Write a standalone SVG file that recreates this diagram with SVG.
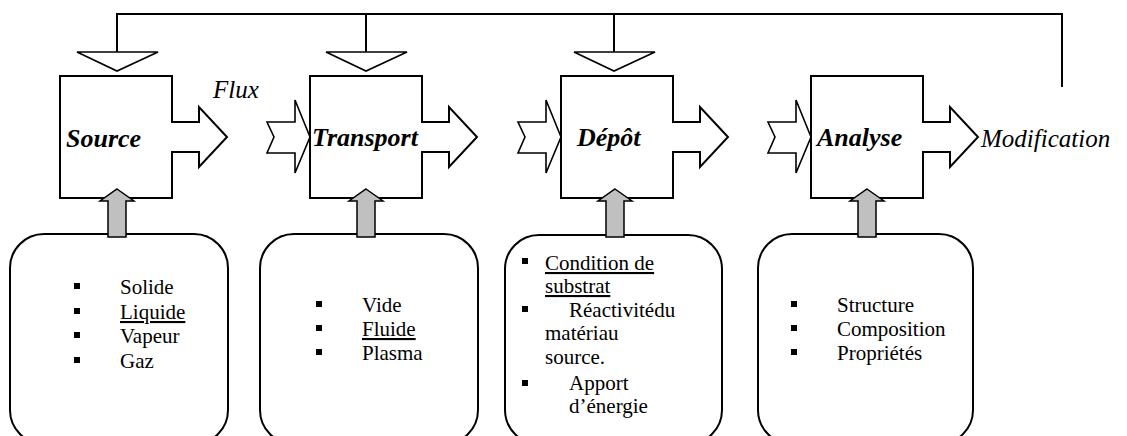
<svg xmlns="http://www.w3.org/2000/svg" width="1127" height="436" viewBox="0 0 1127 436">
  <style>
    .box { fill: #fff; stroke: #000; stroke-width: 2; stroke-linejoin: miter; }
    .inarrow { fill: #fff; stroke: #000; stroke-width: 1.6; stroke-linejoin: miter; }
    .tri { fill: #fff; stroke: #000; stroke-width: 1.6; }
    .wire { fill: none; stroke: #000; stroke-width: 2; }
    .panel { fill: #fff; stroke: #000; stroke-width: 2; }
    .lift { fill: #c0c0c0; stroke: #000; stroke-width: 1.5; }
    .dot { fill: #000; }
  </style>
  <defs>
    <!-- process block with its outgoing flux arrow, origin at top-left -->
    <path id="block" d="M0,0 H112 V46 H139 V31 L167,61 L139,91 V76 H112 V122 H0 Z"/>
    <!-- notched incoming flux arrow, tip at (0,0) -->
    <path id="notch" d="M-43,-15 H-15 V-37 L0,0 L-15,36 V16 H-43 L-36,0 Z"/>
    <!-- feedback triangle, tip at (0,0) -->
    <path id="drop" d="M-40,-19 H41 L0,0 Z"/>
    <!-- grey supply arrow, tip at (0,0) -->
    <path id="lift" d="M0,0 L17,12 H9 V48 H-9 V12 H-17 Z"/>
    <rect id="sq" x="-3" y="-3" width="6" height="6"/>
  </defs>

  <!-- feedback loop along the top -->
  <g id="connectors">
    <path class="wire" d="M117,52 V14 H1062 V87 M366,14 V52 M614,14 V52"/>
    <use href="#drop" class="tri" x="117" y="71"/>
    <use href="#drop" class="tri" x="366" y="71"/>
    <use href="#drop" class="tri" x="614" y="71"/>
    <use href="#notch" class="inarrow" x="310" y="137"/>
    <use href="#notch" class="inarrow" x="561" y="137"/>
    <use href="#notch" class="inarrow" x="811" y="137"/>
    <g font-family="Liberation Serif, Times New Roman, serif" font-style="italic" font-size="25">
      <text x="213" y="98">Flux</text>
      <text x="981" y="147">Modification</text>
    </g>
  </g>

  <g font-family="Liberation Serif, Times New Roman, serif" font-weight="bold" font-style="italic" font-size="26">
    <g id="source">
      <use href="#block" class="box" x="60" y="76"/>
      <text x="66" y="147">Source</text>
    </g>
    <g id="transport">
      <use href="#block" class="box" x="310" y="76"/>
      <text x="312" y="146">Transport</text>
    </g>
    <g id="depot">
      <use href="#block" class="box" x="561" y="76"/>
      <text x="577" y="146">Dépôt</text>
    </g>
    <g id="analyse">
      <use href="#block" class="box" x="811" y="76"/>
      <text x="817" y="146">Analyse</text>
    </g>
  </g>

  <!-- input panels -->
  <g font-family="Liberation Serif, Times New Roman, serif" font-size="21">
    <g id="source-inputs">
      <rect class="panel" x="10" y="234" width="218" height="210" rx="34"/>
      <use href="#lift" class="lift" x="117" y="189"/>
      <use href="#sq" class="dot" x="77" y="286"/>
      <use href="#sq" class="dot" x="77" y="311"/>
      <use href="#sq" class="dot" x="77" y="335"/>
      <use href="#sq" class="dot" x="77" y="360"/>
      <text x="120" y="294">Solide</text>
      <text x="120" y="319" text-decoration="underline">Liquide</text>
      <text x="120" y="343">Vapeur</text>
      <text x="120" y="368">Gaz</text>
    </g>

    <g id="transport-inputs">
      <rect class="panel" x="260" y="234" width="218" height="210" rx="34"/>
      <use href="#lift" class="lift" x="366" y="189"/>
      <use href="#sq" class="dot" x="319" y="304"/>
      <use href="#sq" class="dot" x="319" y="328"/>
      <use href="#sq" class="dot" x="319" y="352"/>
      <text x="362" y="312">Vide</text>
      <text x="362" y="336" text-decoration="underline">Fluide</text>
      <text x="362" y="360">Plasma</text>
    </g>

    <g id="depot-inputs">
      <rect class="panel" x="505" y="235" width="217" height="209" rx="34"/>
      <use href="#lift" class="lift" x="615" y="189"/>
      <use href="#sq" class="dot" x="525" y="261"/>
      <use href="#sq" class="dot" x="525" y="309"/>
      <use href="#sq" class="dot" x="525" y="383"/>
      <text x="545" y="270" text-decoration="underline">Condition de</text>
      <text x="545" y="293" text-decoration="underline">substrat</text>
      <text x="569" y="317">Réactivitédu</text>
      <text x="545" y="340">matériau</text>
      <text x="545" y="364">source.</text>
      <text x="569" y="390">Apport</text>
      <text x="569" y="413">d’énergie</text>
    </g>

    <g id="analyse-inputs">
      <rect class="panel" x="758" y="234" width="215" height="210" rx="34"/>
      <use href="#lift" class="lift" x="867" y="189"/>
      <use href="#sq" class="dot" x="794" y="304"/>
      <use href="#sq" class="dot" x="794" y="328"/>
      <use href="#sq" class="dot" x="794" y="352"/>
      <text x="837" y="312">Structure</text>
      <text x="837" y="336">Composition</text>
      <text x="837" y="360">Propriétés</text>
    </g>
  </g>
</svg>
